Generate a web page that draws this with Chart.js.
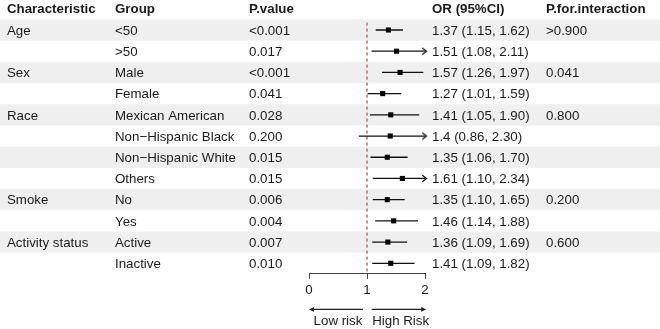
<!DOCTYPE html>
<html><head><meta charset="utf-8">
<script src="https://cdn.jsdelivr.net/npm/chart.js@4"></script>
<style>html,body{margin:0;padding:0;background:#fff}canvas{display:block}</style>
</head><body>
<canvas id="c" width="660" height="329"></canvas>
<script>
// ---- data ----
const headers = ['Characteristic', 'Group', 'P.value', 'OR (95%CI)', 'P.for.interaction'];
const characteristics = ['Age', '', 'Sex', '', 'Race', '', '', '', 'Smoke', '', 'Activity status', ''];
const groups = ['<50', '>50', 'Male', 'Female', 'Mexican American', 'Non\u2212Hispanic Black', 'Non\u2212Hispanic White', 'Others', 'No', 'Yes', 'Active', 'Inactive'];
const pValues = ['<0.001', '0.017', '<0.001', '0.041', '0.028', '0.200', '0.015', '0.015', '0.006', '0.004', '0.007', '0.010'];
const orValues = [1.37, 1.51, 1.57, 1.27, 1.41, 1.4, 1.35, 1.61, 1.35, 1.46, 1.36, 1.41];
const lowerCI = [1.15, 1.08, 1.26, 1.01, 1.05, 0.86, 1.06, 1.10, 1.10, 1.14, 1.09, 1.09];
const upperCI = [1.62, 2.11, 1.97, 1.59, 1.90, 2.30, 1.70, 2.34, 1.65, 1.88, 1.69, 1.82];
const orLabels = ['1.37 (1.15, 1.62)', '1.51 (1.08, 2.11)', '1.57 (1.26, 1.97)', '1.27 (1.01, 1.59)', '1.41 (1.05, 1.90)', '1.4 (0.86, 2.30)', '1.35 (1.06, 1.70)', '1.61 (1.10, 2.34)', '1.35 (1.10, 1.65)', '1.46 (1.14, 1.88)', '1.36 (1.09, 1.69)', '1.41 (1.09, 1.82)'];
const pInteraction = ['>0.900', '', '0.041', '', '0.800', '', '', '', '0.200', '', '0.600', ''];
const xTicks = [0, 1, 2];
const directionLabels = ['Low risk', 'High Risk'];
const refValue = 1;

// ---- style / layout ----
const X_MIN = xTicks[0], X_MAX = xTicks[xTicks.length - 1];
const FONT = '"Liberation Sans", Arial, sans-serif';
const FS = 13.3;
const TEXT = '#1a1a1a';
const columnX = [7, 115, 249, 432, 546];
const columns = [characteristics, groups, pValues, orLabels, pInteraction];
const nRows = groups.length;

// chevron arrow head used as point style for clipped CI ends
const arrowImg = document.createElement('canvas');
arrowImg.width = 14; arrowImg.height = 9;
(function () {
  const a = arrowImg.getContext('2d');
  a.strokeStyle = '#111'; a.lineWidth = 1.2;
  a.beginPath(); a.moveTo(4.3, 1.2); a.lineTo(8.6, 4.5); a.lineTo(4.3, 7.8); a.stroke();
})();

const ciData = [];
orValues.forEach((v, i) => {
  ciData.push({ x: Math.max(lowerCI[i], X_MIN), y: i, arrow: lowerCI[i] < X_MIN ? 'left' : null });
  ciData.push({ x: Math.min(upperCI[i], X_MAX), y: i, arrow: upperCI[i] > X_MAX ? 'right' : null });
  ciData.push({ x: null, y: null });
});

const tablePlugin = {
  id: 'table',
  beforeDraw(chart) {
    const { ctx } = chart; const y = chart.scales.y;
    ctx.save();
    ctx.fillStyle = '#eeefee';
    for (let i = 0; i < nRows; i += 2) {
      const t = y.getPixelForValue(i - 0.5), b = y.getPixelForValue(i + 0.5);
      ctx.fillRect(0, t, chart.width, b - t);
    }
    ctx.restore();
  },
  afterDraw(chart) {
    const { ctx } = chart; const y = chart.scales.y; const x = chart.scales.x;
    ctx.save();
    ctx.fillStyle = TEXT;
    ctx.textBaseline = 'alphabetic';
    ctx.textAlign = 'left';
    ctx.font = 'bold ' + FS + 'px ' + FONT;
    const hy = y.getPixelForValue(-1) + 4.7;
    headers.forEach((h, c) => ctx.fillText(h, columnX[c], hy));
    ctx.font = FS + 'px ' + FONT;
    for (let i = 0; i < nRows; i++) {
      const ry = y.getPixelForValue(i) + 4.7;
      columns.forEach((col, c) => { if (col[i]) ctx.fillText(col[i], columnX[c], ry); });
    }
    // direction arrows
    const ay = chart.chartArea.bottom + 35.5;
    ctx.strokeStyle = '#222'; ctx.fillStyle = '#222'; ctx.lineWidth = 1.1;
    const drawArrow = (from, to) => {
      const x0 = x.getPixelForValue(from), x1 = x.getPixelForValue(to);
      const d = Math.sign(x1 - x0);
      ctx.beginPath(); ctx.moveTo(x0, ay); ctx.lineTo(x1 - d * 3, ay); ctx.stroke();
      ctx.beginPath(); ctx.moveTo(x1, ay); ctx.lineTo(x1 - d * 5, ay - 2.3); ctx.lineTo(x1 - d * 5, ay + 2.3); ctx.closePath(); ctx.fill();
    };
    drawArrow(refValue - 0.07, X_MIN);
    drawArrow(refValue + 0.08, X_MAX + 0.02);
    ctx.fillStyle = TEXT;
    ctx.font = FS + 'px ' + FONT;
    const ly = chart.chartArea.bottom + 51;
    ctx.textAlign = 'right'; ctx.fillText(directionLabels[0], x.getPixelForValue(refValue - 0.08), ly);
    ctx.textAlign = 'left'; ctx.fillText(directionLabels[1], x.getPixelForValue(refValue + 0.09), ly);
    ctx.restore();
  }
};

new Chart(document.getElementById('c'), {
  type: 'scatter',
  data: {
    datasets: [
      {
        label: 'ref', data: [{ x: refValue, y: -0.35 }, { x: refValue, y: nRows - 0.5 }],
        showLine: true, borderColor: '#b5534a', borderWidth: 1.3, borderDash: [3, 3],
        pointRadius: 0, clip: false, order: 3
      },
      {
        label: 'ci', data: ciData, showLine: true, spanGaps: false,
        borderColor: '#111', borderWidth: 1.3,
        pointRadius: ctx => (ctx.raw && ctx.raw.arrow) ? 5 : 0,
        pointStyle: ctx => (ctx.raw && ctx.raw.arrow) ? arrowImg : 'circle',
        rotation: ctx => (ctx.raw && ctx.raw.arrow === 'left') ? 180 : 0,
        clip: false, order: 2
      },
      {
        label: 'or', data: orValues.map((v, i) => ({ x: v, y: i })),
        pointStyle: 'rect', pointRadius: 3.6, backgroundColor: '#000', borderColor: '#000', borderWidth: 0,
        clip: false, order: 1
      }
    ]
  },
  options: {
    responsive: false, animation: false, devicePixelRatio: 1, events: [],
    layout: { padding: { left: 309, right: 235, top: 19.4, bottom: 0 } },
    plugins: { legend: { display: false }, tooltip: { enabled: false } },
    scales: {
      x: {
        type: 'linear', min: X_MIN, max: X_MAX,
        afterBuildTicks: s => { s.ticks = xTicks.map(v => ({ value: v })); },
        afterFit: s => { s.height = 55.1; },
        grid: { drawOnChartArea: false, drawTicks: true, tickLength: 5, color: '#444', lineWidth: 1 },
        border: { display: true, color: '#444', width: 1 },
        ticks: { color: TEXT, font: { family: FONT, size: FS }, padding: 3, maxRotation: 0 }
      },
      y: { type: 'linear', reverse: true, min: -0.5, max: nRows - 0.5, display: false }
    }
  },
  plugins: [tablePlugin]
});
</script>
</body></html>
